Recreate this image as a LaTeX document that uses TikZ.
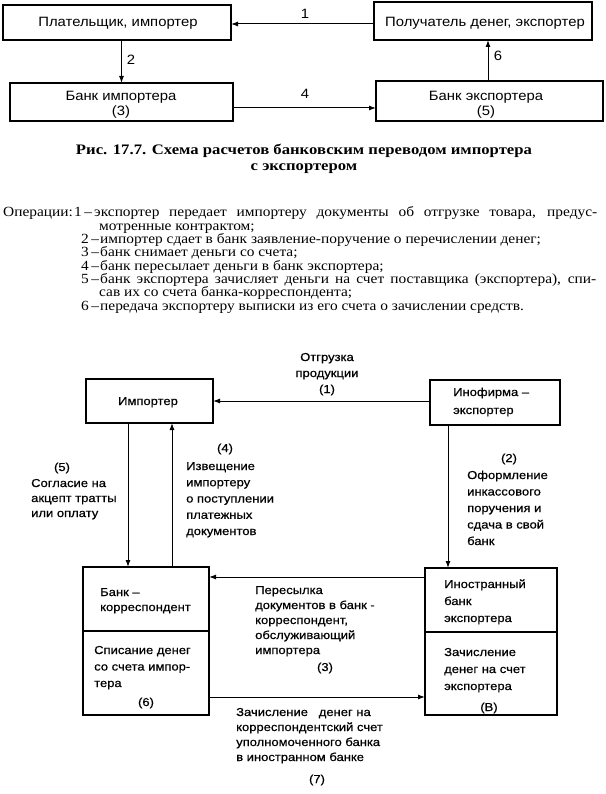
\documentclass[tikz,border=0pt]{standalone}
\usepackage{fontspec}
\usepackage{graphicx}
\newfontfamily\ars[FakeStretch=1.1]{Liberation Sans}
\newfontfamily\arsl[FakeStretch=1.13,FakeBold=0.6]{Liberation Sans}
\newfontfamily\tms{Liberation Serif}
\newfontfamily\tmsb[FakeStretch=1.15]{Liberation Serif Bold}
\newcommand{\wide}[1]{\scalebox{1.1}[1]{#1}}
\newcommand{\wjust}[2]{\scalebox{1.1}[1]{\makebox[#1][s]{#2}}}
\usetikzlibrary{arrows.meta}
\tikzset{
  rbox/.style={draw, line width=1.1pt, inner sep=0pt, outer sep=0pt},
  arr/.style={line width=1pt, -{Latex[length=7pt,width=5pt]}},
  toptxt/.style={inner sep=0pt, anchor=base, align=center, font=\ars\fontsize{13.5}{15}\selectfont},
  lab/.style={inner sep=0pt, anchor=base west, align=left, font=\arsl\fontsize{11.5}{16}\selectfont},
  clab/.style={inner sep=0pt, anchor=base, align=center, font=\arsl\fontsize{11.5}{16}\selectfont},
  ops/.style={inner sep=0pt, anchor=base west, font=\tms\fontsize{14}{15}\selectfont},
  captxt/.style={inner sep=0pt, anchor=base, font=\tmsb\fontsize{14.5}{16}\selectfont},
}
\begin{document}
\begin{tikzpicture}[x=1pt,y=-1pt]
\useasboundingbox (0,0) rectangle (605,794);
% ---------- top diagram ----------
\node[rbox, minimum width=228pt, minimum height=35pt] (payer) at (117,22.5) {};
\node[rbox, minimum width=218pt, minimum height=38pt] (recv) at (483,21) {};
\node[rbox, minimum width=223pt, minimum height=38pt] (bimp) at (121.5,102) {};
\node[rbox, minimum width=227pt, minimum height=40pt] (bexp) at (489.5,101) {};
\node[toptxt] (tpayer) at (118,27) {Плательщик, импортер};
\node[toptxt] (trecv) at (485,27) {Получатель денег, экспортер};
\node[toptxt] (tbimp) at (121,116) {Банк импортера\\(3)};
\node[toptxt] (tbexp) at (486,116) {Банк экспортера\\(5)};
\draw[arr] (recv.west |- 0,24) -- (payer.east |- 0,24);
\draw[arr] (payer.south -| 121.5,0) -- (bimp.north -| 121.5,0);
\draw[arr] (bimp.east |- 0,108) -- (bexp.west |- 0,108);
\draw[arr] (bexp.north -| 488,0) -- (recv.south -| 488,0);
\node[toptxt] (n1) at (305,19) {1};
\node[toptxt] (n2) at (131,65) {2};
\node[toptxt] (n4) at (305,99) {4};
\node[toptxt] (n6) at (498,61) {6};
% ---------- caption ----------
\node[captxt] (cap1) at (304,155) {Рис. 17.7. Схема расчетов банковским переводом импортера};
\node[captxt] (cap2) at (304,171) {с экспортером};
% ---------- operations ----------
\node[ops] (o0) at (3,217) {\wide{Операции:}};
\node[ops] (o1n) at (74,217) {\wide{1\,–}};
\node[ops] (o1) at (94,217) {\wjust{457.3pt}{экспортер передает импортеру документы об отгрузке товара, предус-}};
\node[ops] (o1b) at (99,230.3) {\wide{мотренные контрактом;}};
\node[ops] (o2n) at (81,243.6) {\wide{2\,–}};
\node[ops] (o2) at (100,243.6) {\wide{импортер сдает в банк заявление-поручение о перечислении денег;}};
\node[ops] (o3n) at (81,256.9) {\wide{3\,–}};
\node[ops] (o3) at (100,256.9) {\wide{банк снимает деньги со счета;}};
\node[ops] (o4n) at (81,270.2) {\wide{4\,–}};
\node[ops] (o4) at (100,270.2) {\wide{банк пересылает деньги в банк экспортера;}};
\node[ops] (o5n) at (81,283.5) {\wide{5\,–}};
\node[ops] (o5) at (100,283.5) {\wjust{450.9pt}{банк экспортера зачисляет деньги на счет поставщика (экспортера), спи-}};
\node[ops] (o5b) at (99,296.8) {\wide{сав их со счета банка-корреспондента;}};
\node[ops] (o6n) at (81,310.1) {\wide{6\,–}};
\node[ops] (o6) at (100,310.1) {\wide{передача экспортеру выписки из его счета о зачислении средств.}};
% ---------- lower diagram ----------
\node[rbox, minimum width=127pt, minimum height=44pt] (imp) at (149.5,401) {};
\node[rbox, minimum width=130pt, minimum height=45pt] (ino) at (495,402.5) {};
\node[rbox, minimum width=126pt, minimum height=148pt] (bk) at (146,641) {};
\node[rbox, minimum width=132pt, minimum height=147pt] (fb) at (491,641.5) {};
\draw[line width=1.1pt] (bk.west |- 0,631) -- (bk.east |- 0,631);
\draw[line width=1.1pt] (fb.west |- 0,632) -- (fb.east |- 0,632);
\node[clab] (timp) at (148,405) {Импортер};
\node[lab, font=\arsl\fontsize{11.5}{18}\selectfont] (tino) at (453,414) {Инофирма –\\экспортер};
\node[lab, font=\arsl\fontsize{11.5}{15}\selectfont] (tbk1) at (100,611) {Банк –\\корреспондент};
\node[lab, font=\arsl\fontsize{11.5}{16.5}\selectfont] (tbk2) at (94,687) {Списание денег\\со счета импор-\\тера};
\node[clab] (tbk3) at (146,706) {(6)};
\node[lab, font=\arsl\fontsize{11.5}{17}\selectfont] (tfb1) at (444,622) {Иностранный\\банк\\экспортера};
\node[lab, font=\arsl\fontsize{11.5}{17}\selectfont] (tfb2) at (444,690) {Зачисление\\денег на счет\\экспортера};
\node[clab] (tfb3) at (489,711) {(В)};
% connectors
\draw[arr] (ino.west |- imp.east) -- (imp.east);
\draw[arr] (ino.south -| 448,0) -- (fb.north -| 448,0);
\draw[arr] (imp.south -| 128,0) -- (bk.north -| 128,0);
\draw[arr] (bk.north -| 172,0) -- (imp.south -| 172,0);
\draw[arr] (fb.west |- 0,577) -- (bk.east |- 0,577);
\draw[arr] (bk.east |- 0,697) -- (fb.west |- 0,697);
% labels
\node[clab] (l1) at (327,393) {Отгрузка\\продукции\\(1)};
\node[clab] (l2n) at (509,462) {(2)};
\node[lab, font=\arsl\fontsize{11.5}{16.5}\selectfont] (l2) at (467,545) {Оформление\\инкассового\\поручения и\\сдача в свой\\банк};
\node[clab] (l5n) at (62,471) {(5)};
\node[lab, font=\arsl\fontsize{11.5}{15}\selectfont] (l5) at (31,517) {Согласие на\\акцепт тратты\\или оплату};
\node[clab] (l4n) at (225,452) {(4)};
\node[lab, font=\arsl\fontsize{11.5}{16.25}\selectfont] (l4) at (186,535) {Извещение\\импортеру\\о поступлении\\платежных\\документов};
\node[lab, font=\arsl\fontsize{11.5}{15}\selectfont] (l3) at (255,654) {Пересылка\\документов в банк -\\корреспондент,\\обслуживающий\\импортера};
\node[clab] (l3n) at (325,671) {(3)};
\node[lab, font=\arsl\fontsize{11.5}{15}\selectfont] (l7) at (236,761) {Зачисление\ \ \ денег на\\корреспондентский счет\\уполномоченного банка\\в иностранном банке};
\node[clab] (l7n) at (317,783) {(7)};
\end{tikzpicture}
\end{document}
